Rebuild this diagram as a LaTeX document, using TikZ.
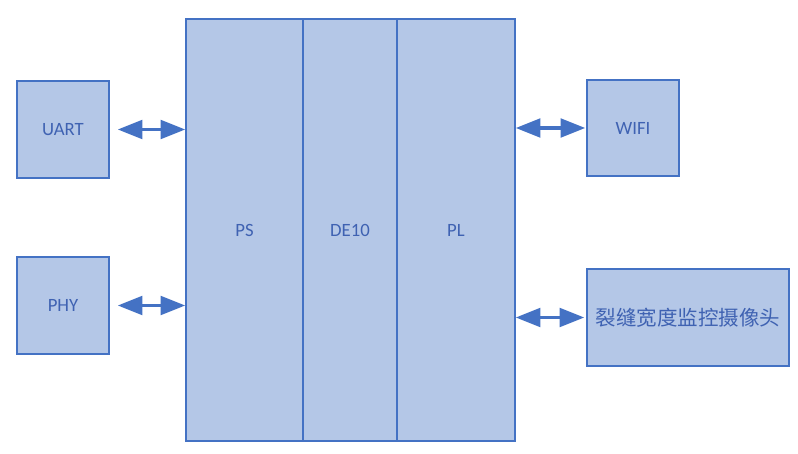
\documentclass[tikz,border=0pt]{standalone}
\usepackage{fontspec}
\setmainfont{Carlito}
\newfontfamily\cjk{Noto Sans CJK SC}
\usetikzlibrary{arrows.meta}
\definecolor{boxfill}{HTML}{B4C7E7}
\definecolor{boxline}{HTML}{4472C4}
\definecolor{boxtext}{HTML}{3F62B2}

\begin{document}
\begin{tikzpicture}[x=0.03cm,y=-0.03cm,
  blk/.style={draw=boxline, fill=boxfill, line width=1.4pt, text=boxtext, font=\fontsize{16}{18}\selectfont, inner sep=0pt},
  biarrow/.style={draw=boxline, line width=2.6pt, {Triangle[length=21pt,width=16pt]}-{Triangle[length=21pt,width=16pt]}}]

 \useasboundingbox (0,0) rectangle (798,454);

 % the board: PS, DE10, PL
 \node[blk, minimum width=117*0.03cm, minimum height=422*0.03cm] (ps) at (244.5,230) {PS};
 \node[blk, minimum width=94*0.03cm, minimum height=422*0.03cm] (de10) at (350,230) {DE10};
 \node[blk, minimum width=118*0.03cm, minimum height=422*0.03cm] (pl) at (456,230) {PL};

 % peripherals
 \node[blk, minimum width=92*0.03cm, minimum height=97*0.03cm] (uart) at (63,129.5) {UART};
 \node[blk, minimum width=92*0.03cm, minimum height=97*0.03cm] (phy) at (63,305.5) {PHY};
 \node[blk, minimum width=92*0.03cm, minimum height=96*0.03cm] (wifi) at (633,128) {WIFI};
 \node[blk, minimum width=202*0.03cm, minimum height=97*0.03cm, font=\cjk\fontsize{17.5}{20}\selectfont] (cam) at (688,317.5) {裂缝宽度监控摄像头};

 % links
 \draw[biarrow, shorten <=8*0.03cm] (uart.east) -- (uart.east -| ps.west);
 \draw[biarrow, shorten <=8*0.03cm] (phy.east) -- (phy.east -| ps.west);
 \draw[biarrow, shorten >=1*0.03cm] (wifi.west -| pl.east) -- (wifi.west);
 \draw[biarrow, shorten >=2*0.03cm] (cam.west -| pl.east) -- (cam.west);

\end{tikzpicture}
\end{document}
